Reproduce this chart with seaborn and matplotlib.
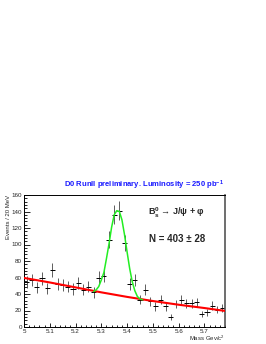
import numpy as np
import matplotlib
matplotlib.use('Agg')
import matplotlib.pyplot as plt
import seaborn as sns
from matplotlib.ticker import MultipleLocator

# data
mass = [5.01, 5.03, 5.05, 5.07, 5.09, 5.11, 5.13, 5.15, 5.17, 5.19,
        5.21, 5.23, 5.25, 5.27, 5.29, 5.31, 5.33, 5.35, 5.37, 5.39,
        5.41, 5.43, 5.45, 5.47, 5.49, 5.51, 5.53, 5.55, 5.57, 5.59,
        5.61, 5.63, 5.65, 5.67, 5.69, 5.71, 5.73, 5.75, 5.77]
counts = [54, 57, 48, 59, 47, 69, 52, 51, 49, 46,
          53, 45, 49, 42, 60, 62, 106, 136, 141, 102,
          52, 57, 33, 45, 31, 25, 33, 25, 12, 28,
          33, 29, 29, 30, 16, 18, 26, 21, 23]
errors = [7.3, 7.5, 6.9, 7.7, 6.9, 8.3, 7.2, 7.1, 7.0, 6.8,
          7.3, 6.7, 7.0, 6.5, 7.7, 7.9, 10.3, 11.7, 11.9, 10.1,
          7.2, 7.5, 5.7, 6.7, 5.6, 5.0, 5.7, 5.0, 3.5, 5.3,
          5.7, 5.4, 5.4, 5.5, 4.0, 4.2, 5.1, 4.6, 4.8]

# background fit (red)
bkg_mass = [5.00, 5.10, 5.20, 5.30, 5.40, 5.50, 5.60, 5.70, 5.78]
bkg_vals = [59.5, 54.0, 48.0, 42.0, 36.5, 31.5, 27.0, 23.0, 19.5]

# signal + background fit (green)
sig_mass = [5.27, 5.28, 5.29, 5.30, 5.31, 5.32, 5.33, 5.34, 5.35, 5.36,
            5.37, 5.38, 5.39, 5.40, 5.41, 5.42, 5.43, 5.44, 5.45, 5.46]
sig_vals = [43, 45, 49, 57, 66, 83, 101, 121, 136, 141,
            140, 130, 112, 91, 71, 55, 44, 37, 34, 33]

x_ticks = [5.0, 5.1, 5.2, 5.3, 5.4, 5.5, 5.6, 5.7]
x_labels = ['5', '5.1', '5.2', '5.3', '5.4', '5.5', '5.6', '5.7']
y_ticks = [0, 20, 40, 60, 80, 100, 120, 140, 160]

sns.set_theme(style='ticks')
plt.rcParams['font.family'] = ['Liberation Sans', 'DejaVu Sans']
plt.rcParams['mathtext.fontset'] = 'custom'
plt.rcParams['mathtext.rm'] = 'Liberation Sans'
plt.rcParams['mathtext.it'] = 'Liberation Sans:italic'
plt.rcParams['mathtext.bf'] = 'Liberation Sans:bold'

fig = plt.figure(figsize=(2.66, 3.44), dpi=100)
ax = fig.add_axes([24 / 266, 1 - 327 / 344, 201 / 266, 132 / 344])

# data points with error bars
ax.errorbar(mass, counts, yerr=errors, fmt='none', ecolor='#444444',
            elinewidth=0.6, capsize=0, zorder=2)
ax.errorbar(mass, counts, xerr=0.01, fmt='none', ecolor='black',
            elinewidth=0.7, capsize=0, zorder=2)

# fit curves
sns.lineplot(x=bkg_mass, y=bkg_vals, color='#ff0000', lw=1.5, ax=ax, zorder=3)
sns.lineplot(x=sig_mass, y=sig_vals, color='#22ee22', lw=1.1, ax=ax, zorder=4)

ax.set_xlim(5.0, 5.78)
ax.set_ylim(0, 160)
ax.set_xticks(x_ticks)
ax.set_xticklabels(x_labels)
ax.set_yticks(y_ticks)
ax.xaxis.set_minor_locator(MultipleLocator(0.02))
ax.yaxis.set_minor_locator(MultipleLocator(4))
ax.tick_params(which='both', direction='in', labelsize=4.5, pad=1.5,
               width=0.6, color='black')
ax.tick_params(axis='x', which='major', length=3)
ax.tick_params(axis='x', which='minor', length=1.5)
ax.tick_params(axis='y', which='major', length=4)
ax.tick_params(axis='y', which='minor', length=2)

for side in ['left', 'bottom', 'top']:
    ax.spines[side].set_linewidth(0.7)
    ax.spines[side].set_color('black')
ax.spines['right'].set_linewidth(1.2)
ax.spines['right'].set_color('#555555')

ax.set_ylabel('Events / 20 MeV', fontsize=4.3, loc='top')
ax.yaxis.set_label_coords(-0.065, 1.0)
ax.set_xlabel('Mass Gev/c$^2$', fontsize=4.3, loc='right')
ax.xaxis.set_label_coords(1.0, -0.05)

fig.text(0.541, 1 - 185 / 344,
         r'D0 RunII preliminary. Luminosity = 250 pb$^{\mathbf{-1}}$',
         ha='center', va='center', fontsize=5.5, fontweight='bold',
         color='#1a1aff')

fig.text(0.662, 1 - 213 / 344,
         r'$\mathbf{B}_{\mathbf{s}}^{\mathbf{0}}$' + ' → J/ψ + φ',
         ha='center', va='center', fontsize=6.5, fontweight='bold')
fig.text(0.665, 1 - 239 / 344, 'N = 403 ± 28',
         ha='center', va='center', fontsize=7, fontweight='bold')

plt.savefig('out.png', dpi=100)
